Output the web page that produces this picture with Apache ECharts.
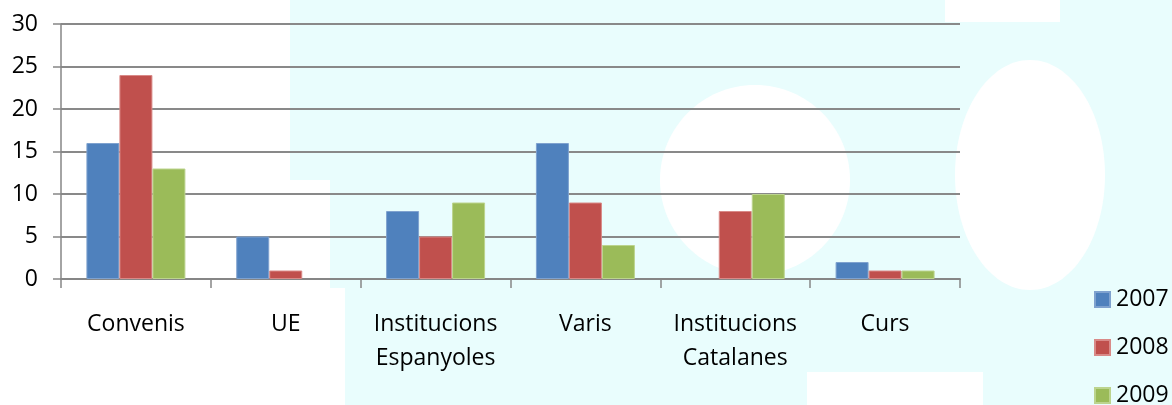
<!DOCTYPE html>
<html>
<head>
<meta charset="utf-8">
<script src="https://cdn.jsdelivr.net/npm/echarts@6/dist/echarts.min.js"></script>
<style>
  html, body { margin: 0; padding: 0; background: #fff; }
  #chart { width: 1172px; height: 405px; }
</style>
</head>
<body>
<div id="chart"></div>
<script>
// categories and values
const categories = ['Convenis', 'UE', 'Institucions\nEspanyoles', 'Varis', 'Institucions\nCatalanes', 'Curs']
const years = ['2007', '2008', '2009']
const values2007 = [16, 5, 8, 16, 0, 2]
const values2008 = [24, 1, 5, 9, 8, 1]
const values2009 = [13, 0, 9, 4, 10, 1]
const yTicks = [0, 5, 10, 15, 20, 25, 30]

const colors = ['#4f81bd', '#c0504d', '#9bbb59']
const edges = ['#7fa2cf', '#d98a88', '#bcd48e']
const font = '"Open Sans", "Liberation Sans", sans-serif'
const cyan = '#e9fdfd'

const chart = echarts.init(document.getElementById('chart'))

// faint watermark behind the plot
const bg = [
  { type: 'rect', shape: { x: 290, y: 0, width: 882, height: 405 }, style: { fill: cyan } },
  { type: 'rect', shape: { x: 290, y: 180, width: 40, height: 110 }, style: { fill: '#fff' } },
  { type: 'rect', shape: { x: 290, y: 288, width: 55, height: 117 }, style: { fill: '#fff' } },
  { type: 'ellipse', shape: { cx: 755, cy: 180, rx: 95, ry: 95 }, style: { fill: '#fff' } },
  { type: 'ellipse', shape: { cx: 1030, cy: 175, rx: 75, ry: 115 }, style: { fill: '#fff' } },
  { type: 'rect', shape: { x: 945, y: 0, width: 115, height: 22 }, style: { fill: '#fff' } },
  { type: 'rect', shape: { x: 807, y: 372, width: 176, height: 33 }, style: { fill: '#fff' } }
].map(e => Object.assign(e, { z: -100, silent: true }))

const seriesData = [values2007, values2008, values2009]

const option = {
  animation: false,
  backgroundColor: '#fff',
  graphic: { elements: bg },
  grid: { left: 61, right: 212, top: 24, bottom: 126, containLabel: false },
  legend: {
    orient: 'vertical',
    left: 1094,
    top: 288,
    height: 200,
    padding: 0,
    itemWidth: 15,
    itemHeight: 15,
    itemGap: 25,
    icon: 'rect',
    textStyle: { fontFamily: font, fontSize: 23, color: '#000', lineHeight: 23, padding: [0, 0, 0, 1] },
    data: years
  },
  xAxis: {
    type: 'category',
    data: categories,
    axisLine: { lineStyle: { color: '#868686', width: 2 } },
    axisTick: { show: true, length: 9, lineStyle: { color: '#868686', width: 1.5 } },
    axisLabel: {
      fontFamily: font, fontSize: 23, color: '#000', margin: 28, lineHeight: 34, interval: 0
    }
  },
  yAxis: {
    type: 'value',
    min: 0,
    max: 30,
    interval: 5,
    axisLine: { show: true, lineStyle: { color: '#868686', width: 1.5 } },
    axisTick: { show: true, length: 8, lineStyle: { color: '#868686', width: 1.5 } },
    splitLine: { lineStyle: { color: '#898989', width: 2 } },
    axisLabel: {
      fontFamily: font, fontSize: 23, color: '#000', margin: 23,
      formatter: v => yTicks.includes(v) ? String(v) : ''
    }
  },
  series: years.map((y, i) => ({
    name: y,
    type: 'bar',
    data: seriesData[i].map(v => v === 0 ? { value: v, itemStyle: { borderWidth: 0 } } : v),
    barWidth: 33,
    barGap: '0%',
    itemStyle: { color: colors[i], borderColor: edges[i], borderWidth: 1 }
  }))
}

chart.setOption(option)
</script>
</body>
</html>
